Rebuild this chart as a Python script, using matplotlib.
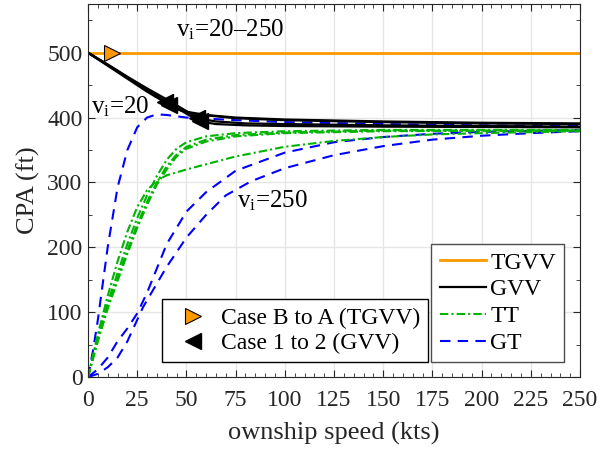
import numpy as np
import matplotlib
matplotlib.use('Agg')
import matplotlib.pyplot as plt
from matplotlib.lines import Line2D

plt.rcParams['font.family'] = 'Liberation Serif'
plt.rcParams['mathtext.fontset'] = 'custom'
plt.rcParams['mathtext.rm'] = 'Liberation Serif'
plt.rcParams['mathtext.it'] = 'Liberation Serif:italic'

# TGVV: flat at 500 for all intruder speeds
tgvv_x = [0, 250]
tgvv_y = [500, 500]
tgvv_marker_x = 12

# GVV curves (x, y)
gvv_x = [
    [0, 10, 20, 30, 39, 45, 50, 60, 75, 100, 150, 200, 250],
    [0, 10, 20, 30, 41, 47, 55, 75, 100, 150, 200, 250],
    [0, 10, 20, 30, 40, 50, 55.5, 65, 80, 100, 150, 200, 250],
    [0, 10, 20, 30, 40, 50, 57, 65, 80, 100, 150, 250],
]
gvv_y = [
    [500, 481, 462, 443, 424, 414, 409, 404, 400, 397, 394, 392, 391],
    [500, 480, 460, 440, 420, 411, 405, 399, 396, 393, 391, 390],
    [500, 482, 463, 445, 428, 410, 399, 394, 391, 390, 388, 387, 386],
    [500, 481, 462, 443, 424, 406, 394, 390, 388, 387, 386, 385],
]
gvv_marker_x = [39, 41, 55.5, 57]

# TT curves
tt_x = [
    [0, 5, 10, 15, 20, 25, 30, 35, 40, 45, 50, 60, 75, 100, 150, 200, 250],
    [0, 5, 10, 15, 20, 25, 30, 35, 40, 45, 50, 60, 75, 100, 150, 200, 250],
    [0, 5, 10, 15, 20, 25, 30, 35, 40, 45, 50, 60, 75, 100, 150, 250],
    [0, 5, 10, 15, 20, 25, 30, 35, 40, 50, 60, 75, 100, 125, 150, 175, 200, 250],
]
tt_y = [
    [0, 62, 115, 160, 205, 245, 280, 310, 335, 352, 362, 371, 376, 379, 381, 381, 381],
    [0, 58, 110, 152, 195, 235, 270, 300, 325, 343, 355, 366, 373, 377, 380, 380, 380],
    [0, 55, 105, 148, 190, 230, 265, 297, 320, 340, 352, 363, 371, 376, 379, 380],
    [0, 66, 125, 178, 224, 262, 288, 303, 311, 320, 328, 340, 355, 364, 370, 374, 376, 379],
]

# GT curves
gt_x = [
    [0, 2.5, 5, 10, 15, 20, 25, 30, 35, 40, 50, 75, 100, 150, 200, 250],
    [0, 5, 10, 15, 20, 25, 30, 40, 50, 60, 75, 100, 125, 150, 175, 200, 250],
    [0, 5, 10, 15, 20, 28, 40, 50, 60, 70, 83, 100, 125, 150, 175, 200, 225, 250],
]
gt_y = [
    [0, 40, 88, 200, 292, 350, 385, 400, 405, 404, 400, 396, 393, 390, 388, 387],
    [0, 12, 30, 55, 75, 98, 130, 205, 255, 285, 318, 346, 362, 370, 375, 378, 381],
    [0, 5, 15, 30, 55, 108, 170, 215, 250, 280, 302, 322, 342, 356, 366, 372, 376, 379],
]

orange = '#FF9900'
green = '#00B400'
blue = '#0000FF'
tt_ls = (0, (4, 1.5, 1, 1.5))
gt_ls = (0, (5, 3.5))

fig = plt.figure(figsize=(6.09, 4.51), dpi=100)
ax = fig.add_axes([0.1445, 0.164, 0.808, 0.827])

ax.plot(tgvv_x, tgvv_y, color=orange, lw=2)
for x, y in zip(gt_x, gt_y):
    ax.plot(x, y, color=blue, lw=1.5, ls=gt_ls)
for x, y in zip(tt_x, tt_y):
    ax.plot(x, y, color=green, lw=1.5, ls=tt_ls)
for x, y in zip(gvv_x, gvv_y):
    ax.plot(x, y, color='k', lw=1.6)

ax.plot(tgvv_marker_x, np.interp(tgvv_marker_x, tgvv_x, tgvv_y), '>',
        ms=12, mfc=orange, mec='k', mew=0.8)
for mx, x, y in zip(gvv_marker_x, gvv_x, gvv_y):
    ax.plot(mx, np.interp(mx, x, y), '<', ms=12, mfc='k', mec='k')

ax.text(44.5, 535, r'v$_\mathrm{i}$=20–250', fontsize=18, va='center')
ax.text(1.5, 417, r'v$_\mathrm{i}$=20', fontsize=18, va='center')
ax.text(75.5, 272, r'v$_\mathrm{i}$=250', fontsize=18, va='center')

ax.set_xlim(0, 250)
ax.set_ylim(0, 575)
ax.set_xticks(np.arange(0, 251, 25))
ax.set_yticks(np.arange(0, 501, 100))
ax.set_xticks(np.arange(0, 251, 5), minor=True)
ax.set_yticks(np.arange(0, 576, 50), minor=True)
ax.tick_params(which='both', direction='in', top=True, right=True,
               labelsize=17, colors='0.15', labelcolor='0.15')
ax.tick_params(which='major', length=5)
ax.tick_params(which='minor', length=3)
ax.tick_params(axis='x', which='major', pad=9)
ax.tick_params(axis='y', which='major', pad=4)
ax.grid(True, which='major', color='0.9', lw=1)
ax.set_axisbelow(True)
for s in ax.spines.values():
    s.set_color('0.15')

ax.set_xlabel('ownship speed (kts)', fontsize=19, color='0.15', labelpad=8)
ax.set_ylabel('CPA (ft)', fontsize=19, color='0.15', labelpad=5)

h1 = [Line2D([], [], color=orange, lw=2),
      Line2D([], [], color='k', lw=1.6),
      Line2D([], [], color=green, lw=1.5, ls=tt_ls),
      Line2D([], [], color=blue, lw=1.5, ls=gt_ls)]
leg1 = ax.legend(h1, ['TGVV', 'GVV', 'TT', 'GT'], loc='lower right',
                 bbox_to_anchor=(0.968, 0.04), borderaxespad=0, fontsize=17,
                 fancybox=False, framealpha=1, edgecolor='0.3',
                 handlelength=1.95, handletextpad=0.2, labelspacing=0.22,
                 borderpad=0.35)
ax.add_artist(leg1)

h2 = [Line2D([], [], ls='none', marker='>', ms=12, mfc=orange, mec='k', mew=0.8),
      Line2D([], [], ls='none', marker='<', ms=12, mfc='k', mec='k')]
ax.legend(h2, ['Case B to A (TGVV)', 'Case 1 to 2 (GVV)'], loc='lower left',
          bbox_to_anchor=(0.15, 0.04), borderaxespad=0, fontsize=17,
          fancybox=False, framealpha=1, edgecolor='k',
          handlelength=1.9, handletextpad=0.25, labelspacing=0.15, borderpad=0.35)

fig.savefig('out.png', dpi=100)
